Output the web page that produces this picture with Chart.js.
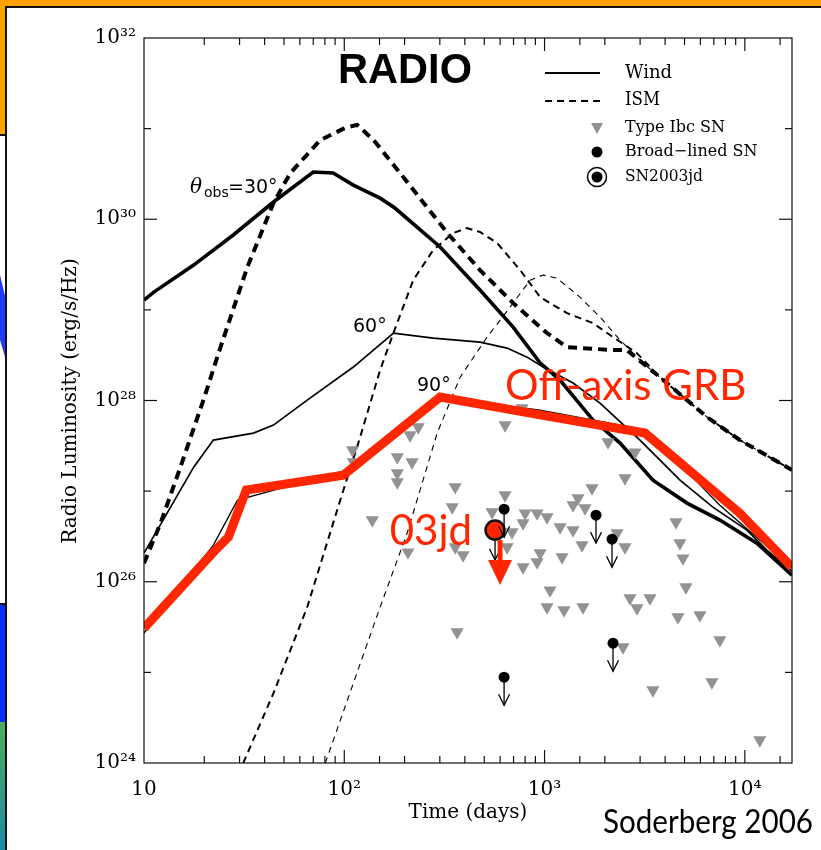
<!DOCTYPE html>
<html>
<head>
<meta charset="utf-8">
<title>Radio luminosity</title>
<script src="https://cdn.jsdelivr.net/npm/chart.js@4.4.1/dist/chart.umd.min.js"></script>
<style>
html, body { margin: 0; padding: 0; background: #fff; overflow: hidden; }
canvas { display: block; }
</style>
</head>
<body>
<canvas id="radio" width="821" height="850"></canvas>
<script>
// axis ticks
const xTickVals = [10, 100, 1000, 10000];
const xTickText = ['10', '10²', '10³', '10⁴'];
const yTickVals = [1e24, 1e25, 1e26, 1e27, 1e28, 1e29, 1e30, 1e31, 1e32];
const yTickText = ['10²⁴', '', '10²⁶', '', '10²⁸', '', '10³⁰', '', '10³²'];

// wind models (solid)
const wind30Days = [10, 11.2, 17.7, 27.9, 44.3, 70, 88, 111, 151, 179, 301, 476, 697, 951, 1194, 1745, 2383, 3477, 5143, 7505, 11480, 17200];
const wind30Lum = [1.28e29, 1.57e29, 3.12e29, 6.7e29, 1.55e30, 3.32e30, 3.24e30, 2.38e30, 1.71e30, 1.33e30, 4.94e29, 1.66e29, 6.46e28, 2.59e28, 1.68e28, 6.08e27, 3.39e27, 1.32e27, 7.38e26, 4.79e26, 2.67e26, 1.18e26];
const wind60Days = [10, 17.7, 22.2, 35.2, 44.3, 65.3, 111, 176, 278, 476, 650, 818, 984, 1387, 1892, 2995, 4745, 6925, 10240, 12880, 17200];
const wind60Lum = [2.07e26, 1.84e27, 3.66e27, 4.37e27, 5.35e27, 1.01e28, 2.34e28, 5.55e28, 4.89e28, 4.41e28, 3.79e28, 3.01e28, 2.34e28, 1.56e28, 9.35e27, 3.66e27, 1.32e27, 6.66e26, 3.72e26, 2.23e26, 1.31e26];
const wind90Days = [10, 22.2, 29.3, 98.9, 301, 951, 3245, 7505, 17200];
const wind90Lum = [2.71e25, 2.54e26, 7.96e26, 1.66e27, 1.09e28, 7.83e27, 4.71e27, 7.0e26, 1.41e26];

// ISM models (dashed)
const ism30Days = [10, 12.1, 15.2, 19.8, 24.1, 32.8, 44.3, 53.8, 75.9, 101, 116, 140, 190, 327, 476, 697, 1028, 1294, 2198, 2576, 3767, 6475, 9443, 17200];
const ism30Lum = [1.6e26, 4.44e26, 1.84e27, 1.01e28, 3.88e28, 2.96e29, 1.51e30, 3.24e30, 7.48e30, 1.02e31, 1.10e31, 7.48e30, 3.24e30, 7.05e29, 2.75e29, 1.19e29, 5.55e28, 3.88e28, 3.6e28, 3.6e28, 1.81e28, 6.56e27, 3.66e27, 1.71e27];
const ism60Days = [31.3, 44.3, 65.3, 95.5, 120, 151, 176, 221, 278, 350, 410, 476, 580, 755, 951, 1294, 1745, 2198, 2891, 3767, 6475, 9443, 17200];
const ism60Lum = [1e24, 5.89e24, 5.25e25, 7.96e26, 3.94e27, 2.17e28, 5.55e28, 2.13e29, 4.57e29, 7.05e29, 8.0e29, 7.23e29, 5.46e29, 2.75e29, 1.38e29, 9.2e28, 7.14e28, 5.01e28, 3.33e28, 1.81e28, 6.56e27, 3.66e27, 1.71e27];
const ism90Days = [80.4, 111, 151, 206, 291, 379, 517, 697, 847, 984, 1153, 1503, 1892, 2383, 3098, 3767, 6475, 9443, 17200];
const ism90Lum = [1e24, 7.6e24, 5.25e25, 3.44e26, 4.37e27, 1.81e28, 5.01e28, 1.19e29, 2.13e29, 2.42e29, 2.24e29, 1.38e29, 8.34e28, 4.64e28, 2.59e28, 1.81e28, 6.56e27, 3.66e27, 1.71e27];

// red overlay: off-axis GRB
const offAxisDays = [10, 22.2, 26.4, 32.4, 98.9, 301, 1102, 3171, 9443, 17200];
const offAxisLum = [3.08e25, 2.12e26, 3.11e26, 1.03e27, 1.5e27, 1.09e28, 6.56e27, 4.37e27, 5.71e26, 1.45e26];

// Type Ibc SN upper limits
const ibcDays = [110, 111, 138, 184, 213, 218, 234, 184, 184, 208, 346, 358, 358, 366, 392, 547, 635, 635, 650, 688, 772, 781, 781, 800, 918, 918, 950, 1029, 1029, 1065, 1195, 1223, 1251, 1388, 1388, 1469, 1538, 1556, 1592, 1726, 2074, 2300, 2464, 2522, 2522, 2670, 2828, 2893, 3360, 3477, 4528, 4741, 4908, 5080, 4633, 5966, 7506, 6846, 11880];
const ibcLum = [2.84e27, 2.09e27, 4.79e26, 2.37e27, 4.15e27, 2.09e27, 5.08e27, 1.58e27, 1.26e27, 2.12e26, 6.66e26, 1.11e27, 2.41e26, 2.78e25, 1.97e26, 5.86e26, 5.35e27, 9.04e26, 2.41e26, 3.53e26, 8.24e27, 4.44e26, 1.45e26, 5.71e26, 5.71e26, 1.65e26, 2.07e26, 5.16e26, 5.25e25, 8.07e25, 4.01e26, 1.87e26, 4.86e25, 7.0e26, 3.72e26, 8.37e26, 2.54e26, 5.25e25, 6.49e26, 1.08e27, 3.48e27, 3.44e26, 1.9e25, 1.39e27, 2.41e26, 6.59e25, 2.69e27, 5.12e25, 6.59e25, 6.37e24, 4.55e26, 2.67e26, 1.82e26, 8.72e25, 4.07e25, 4.28e25, 2.27e25, 7.8e24, 1.79e24];

// broad-lined SN upper limits
const broadDays = [628, 1807, 2172, 2197, 628];
const broadLum = [6.32e26, 5.43e26, 2.95e26, 2.1e25, 8.85e24];

// SN2003jd
const sn03jdDays = [566];
const sn03jdLum = [3.72e26];

const RED = 'rgb(255,38,0)';
const GRAY = 'rgb(146,146,146)';

function pts(xs, ys) {
  return xs.map((x, i) => ({ x: x, y: ys[i] }));
}

function curve(xs, ys, width, dash, color, order) {
  return {
    data: pts(xs, ys),
    showLine: true,
    borderColor: color,
    borderWidth: width,
    borderDash: dash,
    pointRadius: 0,
    tension: 0,
    fill: false,
    order: order
  };
}

function seg(ctx, x1, y1, x2, y2) {
  ctx.beginPath();
  ctx.moveTo(x1, y1);
  ctx.lineTo(x2, y2);
  ctx.stroke();
}

function isDecade(v) {
  const l = Math.log10(v);
  return Math.abs(l - Math.round(l)) < 1e-6;
}

function limitArrow(ctx, x, y, len) {
  seg(ctx, x, y, x, y + len);
  ctx.beginPath();
  ctx.moveTo(x - 5.5, y + len - 11);
  ctx.lineTo(x, y + len);
  ctx.lineTo(x + 5.5, y + len - 11);
  ctx.stroke();
}

// slide background around the figure
const slide = {
  id: 'slide',
  beforeDraw(chart) {
    const ctx = chart.ctx;
    ctx.save();
    ctx.fillStyle = '#fff';
    ctx.fillRect(0, 0, 821, 850);
    ctx.fillStyle = '#ffa200';
    ctx.fillRect(0, 0, 821, 7);
    ctx.fillRect(0, 0, 6, 135);
    ctx.fillStyle = '#1f3cff';
    ctx.beginPath();
    ctx.moveTo(0, 275); ctx.lineTo(6, 300); ctx.lineTo(6, 360); ctx.lineTo(0, 340);
    ctx.fill();
    ctx.fillStyle = '#0a2cff';
    ctx.fillRect(0, 605, 6, 118);
    const g = ctx.createLinearGradient(0, 722, 0, 850);
    g.addColorStop(0, '#4cae5a');
    g.addColorStop(1, '#1b8ca6');
    ctx.fillStyle = g;
    ctx.fillRect(0, 722, 6, 128);
    ctx.fillStyle = '#111';
    ctx.fillRect(6, 6, 815, 2);
    ctx.fillRect(5, 6, 2, 844);
    ctx.fillRect(0, 134, 6, 2);
    ctx.fillRect(0, 603, 6, 2);
    ctx.restore();
  }
};

const marks = {
  id: 'marks',
  afterDatasetsDraw(chart) {
    const ctx = chart.ctx;
    const a = chart.chartArea;
    const xs = chart.scales.x;
    const ys = chart.scales.y;
    ctx.save();
    // frame and inward ticks
    ctx.strokeStyle = '#111';
    ctx.lineWidth = 1.2;
    ctx.strokeRect(a.left, a.top, a.right - a.left, a.bottom - a.top);
    xs.ticks.forEach(t => {
      const px = xs.getPixelForValue(t.value);
      if (px <= a.left + 1 || px >= a.right - 1) return;
      const len = isDecade(t.value) ? 13 : 7;
      seg(ctx, px, a.bottom, px, a.bottom - len);
      seg(ctx, px, a.top, px, a.top + len);
    });
    ys.ticks.forEach(t => {
      const py = ys.getPixelForValue(t.value);
      if (py <= a.top + 1 || py >= a.bottom - 1) return;
      const len = Math.round(Math.log10(t.value)) % 2 === 0 ? 13 : 7;
      seg(ctx, a.left, py, a.left + len, py);
      seg(ctx, a.right, py, a.right - len, py);
    });
    // upper-limit arrows for broad-lined SNe
    ctx.strokeStyle = '#000';
    ctx.lineWidth = 1.3;
    chart.getDatasetMeta(7).data.forEach(p => limitArrow(ctx, p.x, p.y + 4, 24));
    const sn = chart.getDatasetMeta(9).data[0];
    limitArrow(ctx, sn.x, sn.y + 9, 21);
    // red arrow on SN2003jd
    ctx.strokeStyle = RED;
    ctx.fillStyle = RED;
    ctx.lineWidth = 5;
    seg(ctx, sn.x + 5, sn.y + 10, sn.x + 5, sn.y + 34);
    ctx.beginPath();
    ctx.moveTo(sn.x + 5 - 12, sn.y + 30);
    ctx.lineTo(sn.x + 5 + 12, sn.y + 30);
    ctx.lineTo(sn.x + 5, sn.y + 55);
    ctx.closePath();
    ctx.fill();
    ctx.restore();
  },
  afterDraw(chart) {
    const ctx = chart.ctx;
    ctx.save();
    ctx.fillStyle = '#000';
    ctx.textBaseline = 'alphabetic';
    // panel title
    ctx.font = 'bold 42px "Liberation Sans"';
    ctx.fillText('RADIO', 338, 83, 134);
    // axis titles
    ctx.font = '20px "DejaVu Serif"';
    ctx.textAlign = 'center';
    ctx.fillText('Time (days)', 468, 818, 132);
    ctx.save();
    ctx.translate(76, 401);
    ctx.rotate(-Math.PI / 2);
    ctx.fillText('Radio Luminosity (erg/s/Hz)', 0, 0, 322);
    ctx.restore();
    ctx.textAlign = 'left';
    // viewing angle labels
    ctx.font = 'italic 20px "DejaVu Serif"';
    ctx.fillText('θ', 190, 193);
    ctx.font = '14px "DejaVu Sans"';
    ctx.fillText('obs', 204, 197, 25);
    ctx.font = '19px "DejaVu Sans"';
    ctx.fillText('=30°', 228, 193, 50);
    ctx.fillText('60°', 353, 332, 34);
    ctx.fillText('90°', 417, 391, 35);
    // legend
    ctx.strokeStyle = '#000';
    ctx.lineWidth = 2;
    seg(ctx, 545, 73, 600, 73);
    ctx.setLineDash([7, 5]);
    seg(ctx, 545, 101, 600, 101);
    ctx.setLineDash([]);
    ctx.textBaseline = 'middle';
    ctx.font = '18px "DejaVu Serif"';
    ctx.fillText('Wind', 625, 73, 48);
    ctx.fillText('ISM', 625, 100, 35);
    ctx.fillStyle = GRAY;
    ctx.beginPath();
    ctx.moveTo(597 - 6, 123); ctx.lineTo(597 + 6, 123); ctx.lineTo(597, 134);
    ctx.closePath();
    ctx.fill();
    ctx.fillStyle = '#000';
    ctx.beginPath(); ctx.arc(597, 152, 5.5, 0, Math.PI * 2); ctx.fill();
    ctx.beginPath(); ctx.arc(597, 177, 5.5, 0, Math.PI * 2); ctx.fill();
    ctx.lineWidth = 1.5;
    ctx.beginPath(); ctx.arc(597, 177, 9.5, 0, Math.PI * 2); ctx.stroke();
    ctx.font = '16px "DejaVu Serif"';
    ctx.fillText('Type Ibc SN', 625, 128, 104);
    ctx.fillText('Broad−lined SN', 625, 152, 137);
    ctx.fillText('SN2003jd', 625, 177, 78);
    // red annotations
    ctx.textBaseline = 'alphabetic';
    ctx.fillStyle = RED;
    ctx.font = '42px Lato';
    ctx.fillText('Off-axis GRB', 505, 400, 246);
    ctx.textAlign = 'right';
    ctx.fillText('03jd', 472, 545, 85);
    ctx.textAlign = 'left';
    ctx.fillStyle = '#000';
    ctx.font = '32px Lato';
    ctx.fillText('Soderberg 2006', 603, 833, 210);
    ctx.restore();
  }
};

const datasets = [
  curve(ism90Days, ism90Lum, 1.1, [6, 5], '#000', 14),
  curve(ism60Days, ism60Lum, 2, [7, 5], '#000', 13),
  curve(ism30Days, ism30Lum, 4, [9, 6], '#000', 12),
  curve(wind90Days, wind90Lum, 1.3, [], '#000', 11),
  curve(wind60Days, wind60Lum, 1.7, [], '#000', 10),
  curve(wind30Days, wind30Lum, 3.6, [], '#000', 9),
  {
    data: pts(ibcDays, ibcLum),
    showLine: false,
    pointStyle: 'triangle',
    rotation: 180,
    pointRadius: 7.6,
    pointBorderWidth: 0,
    backgroundColor: GRAY,
    borderColor: GRAY,
    order: 8
  },
  {
    data: pts(broadDays, broadLum),
    showLine: false,
    pointStyle: 'circle',
    pointRadius: 5.5,
    pointBorderWidth: 0,
    backgroundColor: '#000',
    borderColor: '#000',
    order: 7
  },
  curve(offAxisDays, offAxisLum, 9, [], RED, 6),
  {
    data: pts(sn03jdDays, sn03jdLum),
    showLine: false,
    pointStyle: 'circle',
    pointRadius: 9.5,
    pointBorderWidth: 2.5,
    backgroundColor: RED,
    borderColor: '#111',
    order: 5
  }
];

new Chart(document.getElementById('radio'), {
  type: 'scatter',
  data: { datasets: datasets },
  options: {
    responsive: false,
    animation: false,
    events: [],
    layout: { padding: { left: 84, top: 38, right: 29, bottom: 47 } },
    plugins: { legend: { display: false }, tooltip: { enabled: false } },
    scales: {
      x: {
        type: 'logarithmic',
        min: 10,
        max: 17200,
        grid: { display: false, drawTicks: false },
        border: { display: false },
        afterFit: s => { s.height = 40; },
        ticks: {
          autoSkip: false,
          maxRotation: 0,
          minRotation: 0,
          padding: 15,
          color: '#000',
          font: { family: 'DejaVu Serif', size: 20 },
          callback: v => {
            const i = xTickVals.findIndex(t => Math.abs(v / t - 1) < 1e-6);
            return i < 0 ? '' : xTickText[i];
          }
        }
      },
      y: {
        type: 'logarithmic',
        min: 1e24,
        max: 1e32,
        grid: { display: false, drawTicks: false },
        border: { display: false },
        afterFit: s => { s.width = 60; },
        afterBuildTicks: s => { s.ticks = yTickVals.map(v => ({ value: v })); },
        ticks: {
          autoSkip: false,
          padding: 8,
          color: '#000',
          font: { family: 'DejaVu Serif', size: 20 },
          callback: (v, i) => yTickText[i]
        }
      }
    }
  },
  plugins: [slide, marks]
});
</script>
</body>
</html>
